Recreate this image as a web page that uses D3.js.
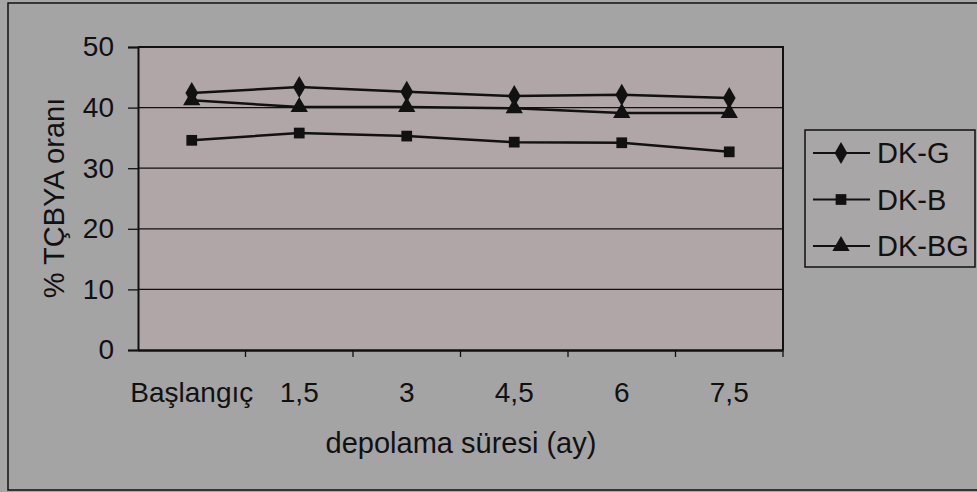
<!DOCTYPE html>
<html>
<head>
<meta charset="utf-8">
<script src="https://cdn.jsdelivr.net/npm/d3@7"></script>
<style>
  body { margin: 0; background: #a6a6a6; }
  svg { display: block; font-family: "Liberation Sans", Arial, sans-serif; }
</style>
</head>
<body>
<svg id="chart" width="977" height="492"></svg>
<script>
// veri
const categories = ["Başlangıç", "1,5", "3", "4,5", "6", "7,5"];
const dkG = [42.4, 43.4, 42.6, 41.9, 42.1, 41.6];
const dkB = [34.6, 35.8, 35.3, 34.3, 34.2, 32.7];
const dkBG = [41.2, 40.1, 40.1, 39.9, 39.1, 39.1];
const yTicks = [0, 10, 20, 30, 40, 50];

const series = [
    { name: "DK-G", values: dkG, shape: d3.symbolDiamond, size: 140 },
    { name: "DK-B", values: dkB, shape: d3.symbolSquare, size: 115 },
    { name: "DK-BG", values: dkBG, shape: d3.symbolTriangle, size: 130 }
];

const svg = d3.select("#chart");
const plot = { left: 138, top: 47, right: 783, bottom: 350 };
const fontFam = "Liberation Sans, Arial, sans-serif";

// dış çerçeve
svg.append("rect")
    .attr("x", 8).attr("y", 3).attr("width", 975).attr("height", 487)
    .attr("fill", "#a4a4a4").attr("stroke", "#111").attr("stroke-width", 1.5);

// çizim alanı
svg.append("rect")
    .attr("x", plot.left).attr("y", plot.top)
    .attr("width", plot.right - plot.left).attr("height", plot.bottom - plot.top)
    .attr("fill", "#b0a5a7");

const x = d3.scaleBand().domain(categories).range([plot.left, plot.right]);
const y = d3.scaleLinear().domain([0, 50]).range([plot.bottom, plot.top]);

// ızgara çizgileri
svg.append("g").selectAll("line")
    .data(yTicks.filter(d => d > 0))
    .enter().append("line")
    .attr("x1", plot.left).attr("x2", plot.right)
    .attr("y1", d => y(d)).attr("y2", d => y(d))
    .attr("stroke", "#111").attr("stroke-width", 1.3);

// y ekseni
const yAxis = svg.append("g")
    .attr("transform", `translate(${plot.left},0)`)
    .call(d3.axisLeft(y).tickValues(yTicks).tickSize(10).tickPadding(14));
yAxis.selectAll("text").attr("font-size", 28).attr("fill", "#111")
    .style("font-family", fontFam);
yAxis.select(".domain").attr("stroke", "#111").attr("stroke-width", 2);
yAxis.selectAll(".tick line").attr("stroke", "#111").attr("stroke-width", 1.3);

// x ekseni
const xAxis = svg.append("g")
    .attr("transform", `translate(0,${plot.bottom})`)
    .call(d3.axisBottom(x).tickSize(0).tickPadding(32));
xAxis.selectAll("text").attr("font-size", 28).attr("fill", "#111")
    .style("font-family", fontFam);
xAxis.select(".domain").attr("stroke", "#111").attr("stroke-width", 2.5);

// kategori sınır çentikleri
svg.append("g").selectAll("line")
    .data(categories)
    .enter().append("line")
    .attr("x1", d => x(d) + x.step())
    .attr("x2", d => x(d) + x.step())
    .attr("y1", plot.bottom).attr("y2", plot.bottom + 7)
    .attr("stroke", "#111").attr("stroke-width", 1.3);

// sağ ve üst kenar
svg.append("path")
    .attr("d", `M${plot.left},${plot.top}H${plot.right}V${plot.bottom}`)
    .attr("fill", "none").attr("stroke", "#111").attr("stroke-width", 2);

// eksen başlıkları
svg.append("text")
    .attr("x", 461).attr("y", 453)
    .attr("text-anchor", "middle").attr("font-size", 29).attr("fill", "#111")
    .text("depolama süresi (ay)");

svg.append("text")
    .attr("transform", "translate(64,198) rotate(-90)")
    .attr("text-anchor", "middle").attr("font-size", 29).attr("fill", "#111")
    .text("% TÇBYA oranı");

// seriler
const line = d3.line()
    .x((d, i) => x(categories[i]) + x.bandwidth() / 2)
    .y(d => y(d));

series.forEach(s => {
    svg.append("path")
        .datum(s.values)
        .attr("d", line)
        .attr("fill", "none").attr("stroke", "#111").attr("stroke-width", 2.5);
    svg.append("g").selectAll("path")
        .data(s.values)
        .enter().append("path")
        .attr("d", d3.symbol().type(s.shape).size(s.size))
        .attr("transform", (d, i) => `translate(${x(categories[i]) + x.bandwidth() / 2},${y(d)})`)
        .attr("fill", "#111");
});

// lejant
const legend = svg.append("g").attr("transform", "translate(805,130)");
legend.append("rect")
    .attr("width", 170).attr("height", 137)
    .attr("fill", "#a8a6a6").attr("stroke", "#111").attr("stroke-width", 1.5);

const item = legend.selectAll("g.item")
    .data(series).enter().append("g")
    .attr("transform", (d, i) => `translate(0,${23 + i * 46.5})`);
item.append("line")
    .attr("x1", 8).attr("x2", 65).attr("y1", 0).attr("y2", 0)
    .attr("stroke", "#111").attr("stroke-width", 2);
item.append("path")
    .attr("d", d => d3.symbol().type(d.shape).size(d.size)())
    .attr("transform", "translate(36,0)")
    .attr("fill", "#111");
item.append("text")
    .attr("x", 72).attr("y", 10)
    .attr("font-size", 29).attr("fill", "#111")
    .text(d => d.name);
</script>
</body>
</html>
